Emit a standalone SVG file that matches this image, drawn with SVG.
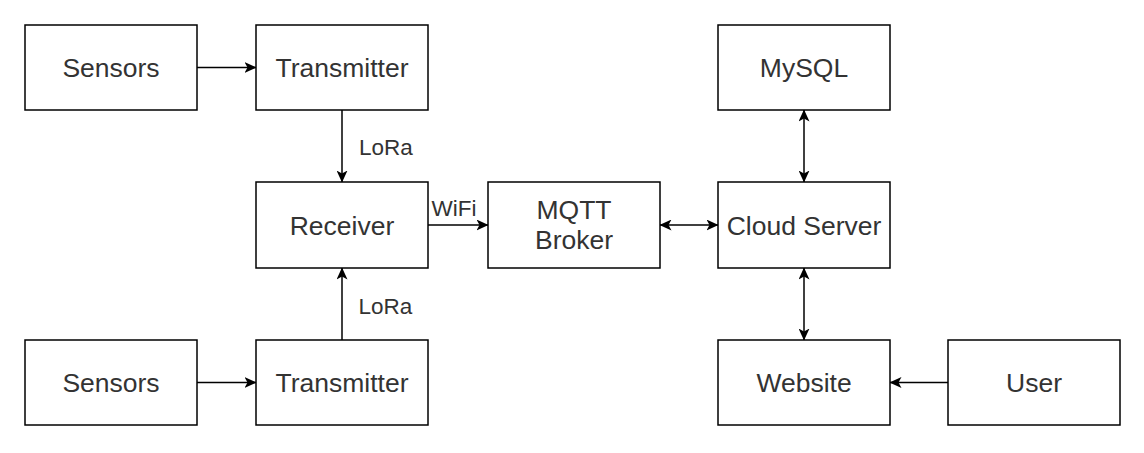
<svg xmlns="http://www.w3.org/2000/svg" width="1144" height="453" viewBox="0 0 1144 453">
  <style>
    .box { fill: #ffffff; stroke: #000000; stroke-width: 1.5; }
    .lbl { font-size: 26.5px; fill: #333333; text-anchor: middle; }
    .elbl { font-size: 22.5px; fill: #333333; }
    .edge { stroke: #000000; stroke-width: 1.5; fill: none; }
  </style>
  <defs>
    <marker id="arr" viewBox="0 0 12 11" refX="11.5" refY="5.5" markerWidth="12" markerHeight="11" markerUnits="userSpaceOnUse" orient="auto-start-reverse">
      <path d="M0,0 L12,5.5 L0,11 L3,5.5 z" fill="#000000"/>
    </marker>
  </defs>
  <rect width="1144" height="453" fill="#ffffff"/>

  <g id="connectors" font-family="Liberation Sans, Arimo, Arial, Helvetica, sans-serif">
    <line class="edge" x1="197" y1="67.5" x2="256" y2="67.5" marker-end="url(#arr)"/>
    <line class="edge" x1="197" y1="382.5" x2="256" y2="382.5" marker-end="url(#arr)"/>
    <line class="edge" x1="342" y1="110" x2="342" y2="182" marker-end="url(#arr)"/>
    <line class="edge" x1="342" y1="340" x2="342" y2="268" marker-end="url(#arr)"/>
    <line class="edge" x1="428" y1="225" x2="488" y2="225" marker-end="url(#arr)"/>
    <line class="edge" x1="660" y1="225" x2="718" y2="225" marker-start="url(#arr)" marker-end="url(#arr)"/>
    <line class="edge" x1="804" y1="110" x2="804" y2="182" marker-start="url(#arr)" marker-end="url(#arr)"/>
    <line class="edge" x1="804" y1="268" x2="804" y2="340" marker-start="url(#arr)" marker-end="url(#arr)"/>
    <line class="edge" x1="948" y1="382.5" x2="890" y2="382.5" marker-end="url(#arr)"/>
    <text class="elbl" x="359" y="155">LoRa</text>
    <text class="elbl" x="358.5" y="314">LoRa</text>
    <text class="elbl" x="431.5" y="216">WiFi</text>
  </g>

  <g font-family="Liberation Sans, Arimo, Arial, Helvetica, sans-serif">
  <g id="sensors1">
    <rect class="box" x="25" y="25" width="172" height="85"/>
    <text class="lbl" x="111" y="77">Sensors</text>
  </g>
  <g id="transmitter1">
    <rect class="box" x="256" y="25" width="172" height="85"/>
    <text class="lbl" x="342" y="77">Transmitter</text>
  </g>
  <g id="receiver">
    <rect class="box" x="256" y="182" width="172" height="86"/>
    <text class="lbl" x="342" y="234.5">Receiver</text>
  </g>
  <g id="sensors2">
    <rect class="box" x="25" y="340" width="172" height="85"/>
    <text class="lbl" x="111" y="392">Sensors</text>
  </g>
  <g id="transmitter2">
    <rect class="box" x="256" y="340" width="172" height="85"/>
    <text class="lbl" x="342" y="392">Transmitter</text>
  </g>
  <g id="mqtt">
    <rect class="box" x="488" y="182" width="172" height="86"/>
    <text class="lbl" x="574" y="219">MQTT</text>
    <text class="lbl" x="574" y="249">Broker</text>
  </g>
  <g id="mysql">
    <rect class="box" x="718" y="25" width="172" height="85"/>
    <text class="lbl" x="804" y="77">MySQL</text>
  </g>
  <g id="cloud">
    <rect class="box" x="718" y="182" width="172" height="86"/>
    <text class="lbl" x="804" y="234.5">Cloud Server</text>
  </g>
  <g id="website">
    <rect class="box" x="718" y="340" width="172" height="85"/>
    <text class="lbl" x="804" y="392">Website</text>
  </g>
  <g id="user">
    <rect class="box" x="948" y="340" width="172" height="85"/>
    <text class="lbl" x="1034" y="392">User</text>
  </g>
  </g>
</svg>
